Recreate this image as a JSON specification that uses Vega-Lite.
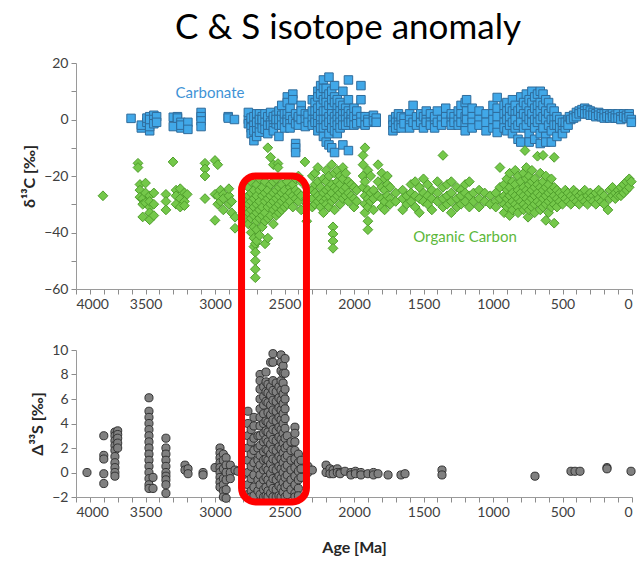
{
"$schema": "https://vega.github.io/schema/vega-lite/v6.json",
"title": {"text": "C & S isotope anomaly", "fontSize": 35, "font": "Lato", "fontWeight": "normal", "color": "#000000", "anchor": "middle", "frame": "group", "dx": -6, "offset": 10},
"padding": {"left": 21, "top": 11, "right": 0, "bottom": 2},
"bounds": "flush",
"spacing": 61,
"config": {
  "font": "Lato",
  "view": {"stroke": null},
  "axis": {"grid": false, "domainColor": "#9a9a9a", "tickColor": "#8c8c8c", "labelColor": "#404040", "labelFontSize": 14, "titleFontSize": 16, "titleFontWeight": "bold", "titleColor": "#262626", "tickSize": 5, "labelPadding": 3, "labelOverlap": false}
},
"datasets": {
  "carb": [
{"age":3604,"v":0.4},{"age":3530,"v":-3},{"age":3530,"v":-2},{"age":3490,"v":-1},{"age":3490,"v":0.5},{"age":3470,"v":-4},{"age":3470,"v":-2.5},{"age":3470,"v":1},{"age":3470,"v":0},{"age":3440,"v":1.5},{"age":3440,"v":0},{"age":3440,"v":-1.5},{"age":3420,"v":1},{"age":3420,"v":-1},
{"age":3300,"v":0.8},{"age":3300,"v":-2.5},{"age":3270,"v":1},{"age":3270,"v":0.5},{"age":3245,"v":-1},{"age":3245,"v":-3},{"age":3245,"v":-2},{"age":3195,"v":-1},{"age":3195,"v":-3.5},
{"age":3100,"v":2.5},{"age":3100,"v":1},{"age":3100,"v":-0.5},{"age":3100,"v":-2.5},{"age":2905,"v":1},{"age":2905,"v":0.5},{"age":2860,"v":0},
{"age":2760,"v":0},{"age":2760,"v":-1.5},{"age":2760,"v":2.5},{"age":2740,"v":-1},{"age":2740,"v":-3},{"age":2740,"v":-5},{"age":2740,"v":0.5},{"age":2720,"v":-2},{"age":2720,"v":-4},{"age":2720,"v":-7.5},{"age":2720,"v":1},
{"age":2700,"v":-6},{"age":2700,"v":-3},{"age":2700,"v":0},{"age":2700,"v":2},{"age":2700,"v":-1},{"age":2680,"v":2},{"age":2680,"v":-2},{"age":2680,"v":-4.5},{"age":2680,"v":0},
{"age":2660,"v":1},{"age":2660,"v":-1},{"age":2660,"v":-3},{"age":2660,"v":0},{"age":2640,"v":-1},{"age":2640,"v":2},{"age":2640,"v":-3.5},{"age":2620,"v":0},{"age":2620,"v":-2},{"age":2620,"v":-5},{"age":2620,"v":1},
{"age":2600,"v":2.5},{"age":2600,"v":-1},{"age":2600,"v":-2},{"age":2580,"v":0},{"age":2580,"v":-3},{"age":2580,"v":-4},{"age":2580,"v":1},{"age":2560,"v":1.5},{"age":2560,"v":-1.5},{"age":2560,"v":0},
{"age":2540,"v":3},{"age":2540,"v":-2},{"age":2540,"v":-6},{"age":2540,"v":0},{"age":2520,"v":5},{"age":2520,"v":1.5},{"age":2520,"v":0},{"age":2520,"v":-2},{"age":2500,"v":0},{"age":2500,"v":2},{"age":2500,"v":-3},
{"age":2480,"v":8},{"age":2480,"v":6},{"age":2480,"v":2},{"age":2480,"v":0},{"age":2480,"v":-1},{"age":2460,"v":4},{"age":2460,"v":1},{"age":2460,"v":-1.5},{"age":2460,"v":-3},
{"age":2440,"v":9},{"age":2440,"v":7},{"age":2440,"v":0},{"age":2420,"v":2},{"age":2420,"v":-1.5},{"age":2420,"v":-8.5},{"age":2420,"v":-10},{"age":2420,"v":-11.7},
{"age":2400,"v":0.5},{"age":2400,"v":-2},{"age":2400,"v":1},{"age":2380,"v":5},{"age":2380,"v":3},{"age":2380,"v":0},{"age":2350,"v":2},{"age":2350,"v":0},{"age":2350,"v":-2.5},{"age":2330,"v":1.5},{"age":2330,"v":-1},
{"age":2300,"v":7},{"age":2300,"v":3},{"age":2300,"v":0},{"age":2300,"v":-2},{"age":2280,"v":6},{"age":2280,"v":3},{"age":2280,"v":0},{"age":2280,"v":-1},
{"age":2260,"v":10},{"age":2260,"v":8},{"age":2260,"v":4},{"age":2260,"v":1},{"age":2260,"v":-1.5},{"age":2260,"v":-4},
{"age":2240,"v":12},{"age":2240,"v":9},{"age":2240,"v":5},{"age":2240,"v":2},{"age":2240,"v":0},{"age":2240,"v":-2},{"age":2240,"v":-3},
{"age":2220,"v":14},{"age":2220,"v":11},{"age":2220,"v":7},{"age":2220,"v":3},{"age":2220,"v":0},{"age":2220,"v":-3},{"age":2220,"v":-6},
{"age":2200,"v":11},{"age":2200,"v":8},{"age":2200,"v":6},{"age":2200,"v":3},{"age":2200,"v":0},{"age":2200,"v":-2},{"age":2200,"v":-8},
{"age":2180,"v":15},{"age":2180,"v":9},{"age":2180,"v":5},{"age":2180,"v":1},{"age":2180,"v":-1},{"age":2180,"v":-5},{"age":2180,"v":-9},
{"age":2160,"v":10},{"age":2160,"v":7},{"age":2160,"v":4},{"age":2160,"v":2},{"age":2160,"v":0},{"age":2160,"v":-3},{"age":2160,"v":-10},
{"age":2140,"v":12},{"age":2140,"v":8},{"age":2140,"v":6},{"age":2140,"v":1},{"age":2140,"v":-1},{"age":2140,"v":-4},{"age":2140,"v":-11.7},
{"age":2120,"v":7},{"age":2120,"v":4},{"age":2120,"v":2},{"age":2120,"v":0},{"age":2120,"v":-2},{"age":2120,"v":-5},
{"age":2100,"v":6},{"age":2100,"v":3},{"age":2100,"v":1},{"age":2100,"v":-1},{"age":2100,"v":-3},
{"age":2080,"v":10},{"age":2080,"v":5},{"age":2080,"v":2},{"age":2080,"v":0},{"age":2080,"v":-2},{"age":2080,"v":-9},
{"age":2060,"v":4},{"age":2060,"v":2},{"age":2060,"v":0},{"age":2060,"v":-2},{"age":2040,"v":14},{"age":2040,"v":7},{"age":2040,"v":3},{"age":2040,"v":1},{"age":2040,"v":-1},{"age":2040,"v":-11},
{"age":2020,"v":2},{"age":2020,"v":0},{"age":2020,"v":-1},{"age":2000,"v":4},{"age":2000,"v":1},{"age":2000,"v":-2},{"age":1980,"v":3},{"age":1980,"v":0},{"age":1980,"v":-1.5},
{"age":1950,"v":12},{"age":1950,"v":7},{"age":1950,"v":1},{"age":1950,"v":-1},{"age":1920,"v":1},{"age":1920,"v":-2},{"age":1900,"v":0},{"age":1900,"v":-1},{"age":1860,"v":1.5},{"age":1860,"v":-0.5},{"age":1840,"v":0.5},{"age":1840,"v":-1},
{"age":1720,"v":0},{"age":1720,"v":-2},{"age":1720,"v":-4},{"age":1700,"v":1},{"age":1700,"v":-1},{"age":1700,"v":-3},{"age":1680,"v":0},{"age":1680,"v":-2},{"age":1680,"v":2},{"age":1660,"v":-1},{"age":1660,"v":-3},{"age":1660,"v":1},{"age":1640,"v":0.5},{"age":1640,"v":-1.5},
{"age":1600,"v":2},{"age":1600,"v":0},{"age":1600,"v":-2},{"age":1600,"v":-3},{"age":1575,"v":5},{"age":1575,"v":-1},{"age":1550,"v":1},{"age":1550,"v":-2},{"age":1520,"v":0},{"age":1520,"v":-1},{"age":1520,"v":2},{"age":1500,"v":1},{"age":1500,"v":-3},
{"age":1480,"v":0},{"age":1480,"v":-1},{"age":1480,"v":3},{"age":1450,"v":2},{"age":1450,"v":-1},{"age":1450,"v":-2},{"age":1420,"v":0},{"age":1420,"v":1},{"age":1420,"v":-3},{"age":1400,"v":3},{"age":1400,"v":-1},{"age":1370,"v":0},{"age":1370,"v":-2},
{"age":1340,"v":4},{"age":1340,"v":1},{"age":1340,"v":-1},{"age":1300,"v":0},{"age":1300,"v":2},{"age":1300,"v":-2},{"age":1280,"v":1},{"age":1280,"v":-1},{"age":1250,"v":3},{"age":1250,"v":0},{"age":1250,"v":-2},
{"age":1230,"v":5},{"age":1230,"v":2},{"age":1230,"v":-1},{"age":1200,"v":6},{"age":1200,"v":1},{"age":1200,"v":-2},{"age":1200,"v":-4},{"age":1190,"v":7},{"age":1190,"v":3},{"age":1190,"v":0},
{"age":1150,"v":4},{"age":1150,"v":1},{"age":1150,"v":-1},{"age":1150,"v":-3},{"age":1100,"v":3},{"age":1100,"v":0},{"age":1100,"v":-2},{"age":1050,"v":2},{"age":1050,"v":-1},{"age":1050,"v":-4},
{"age":1000,"v":5},{"age":1000,"v":2},{"age":1000,"v":0},{"age":1000,"v":-3},{"age":970,"v":7.8},{"age":970,"v":4},{"age":970,"v":1},{"age":970,"v":-2},{"age":970,"v":-4.6},
{"age":920,"v":5},{"age":920,"v":2},{"age":920,"v":-1},{"age":920,"v":-3},{"age":900,"v":6},{"age":900,"v":3},{"age":900,"v":0},{"age":900,"v":-4},{"age":880,"v":4},{"age":880,"v":1},{"age":880,"v":-2},
{"age":860,"v":7},{"age":860,"v":3},{"age":860,"v":-1},{"age":860,"v":-5},{"age":840,"v":5},{"age":840,"v":2},{"age":840,"v":0},{"age":840,"v":-3},{"age":820,"v":3},{"age":820,"v":-2},{"age":820,"v":-7},
{"age":800,"v":8},{"age":800,"v":4},{"age":800,"v":1},{"age":800,"v":-1},{"age":800,"v":-8},{"age":780,"v":6},{"age":780,"v":2},{"age":780,"v":-3},{"age":760,"v":9},{"age":760,"v":5},{"age":760,"v":1},{"age":760,"v":-2},
{"age":740,"v":7},{"age":740,"v":3},{"age":740,"v":0},{"age":740,"v":-5},{"age":740,"v":-8},{"age":720,"v":10},{"age":720,"v":6},{"age":720,"v":2},{"age":720,"v":-1},
{"age":700,"v":8},{"age":700,"v":4},{"age":700,"v":0},{"age":700,"v":-3},{"age":700,"v":-7},{"age":680,"v":9},{"age":680,"v":5},{"age":680,"v":2},{"age":680,"v":-1},
{"age":660,"v":10},{"age":660,"v":6},{"age":660,"v":3},{"age":660,"v":0},{"age":660,"v":-5},{"age":660,"v":-8.5},{"age":640,"v":9},{"age":640,"v":5},{"age":640,"v":1},{"age":640,"v":-3},
{"age":620,"v":7},{"age":620,"v":3},{"age":620,"v":0},{"age":620,"v":-6},{"age":620,"v":-8},{"age":600,"v":6},{"age":600,"v":2},{"age":600,"v":-2},{"age":580,"v":4},{"age":580,"v":0},{"age":580,"v":-4},{"age":580,"v":-8},
{"age":560,"v":3},{"age":560,"v":0},{"age":560,"v":-2},{"age":540,"v":1},{"age":540,"v":-2},{"age":540,"v":-6},{"age":520,"v":0},{"age":520,"v":-3},
{"age":500,"v":-3},{"age":500,"v":-5},{"age":500,"v":-1},{"age":480,"v":-3},{"age":480,"v":-1},{"age":460,"v":0},{"age":460,"v":-2},{"age":450,"v":1},{"age":440,"v":0},{"age":420,"v":1.5},{"age":420,"v":0.5},{"age":400,"v":2.5},{"age":400,"v":1},
{"age":380,"v":3},{"age":380,"v":2},{"age":360,"v":3.5},{"age":360,"v":2.5},{"age":340,"v":4},{"age":340,"v":3},{"age":340,"v":2},{"age":320,"v":3.5},{"age":320,"v":2},{"age":300,"v":3},{"age":300,"v":1.5},
{"age":280,"v":2.5},{"age":280,"v":1.5},{"age":260,"v":2},{"age":260,"v":1},{"age":240,"v":2.5},{"age":240,"v":1.5},{"age":220,"v":2},{"age":220,"v":1},{"age":200,"v":2},{"age":200,"v":0.5},
{"age":180,"v":2},{"age":180,"v":1},{"age":160,"v":1.5},{"age":160,"v":0.5},{"age":140,"v":2},{"age":140,"v":1},{"age":120,"v":1.5},{"age":120,"v":0.5},{"age":100,"v":2},{"age":100,"v":0.5},
{"age":80,"v":1},{"age":80,"v":0},{"age":60,"v":2},{"age":60,"v":1},{"age":40,"v":1.5},{"age":40,"v":0.5},{"age":20,"v":2},{"age":20,"v":1},{"age":5,"v":0},{"age":5,"v":-1}
  ],
  "org": [
{"age":3806,"v":-27},{"age":3554,"v":-15.5},{"age":3554,"v":-17},{"age":3540,"v":-23},{"age":3540,"v":-25},{"age":3540,"v":-27.5},{"age":3520,"v":-28},{"age":3520,"v":-30},{"age":3520,"v":-34.5},
{"age":3500,"v":-22.5},{"age":3500,"v":-26},{"age":3500,"v":-29.5},{"age":3470,"v":-27},{"age":3470,"v":-31},{"age":3470,"v":-33},{"age":3470,"v":-35.5},{"age":3470,"v":-29},{"age":3440,"v":-30},{"age":3440,"v":-34},{"age":3440,"v":-26},
{"age":3353,"v":-26.5},{"age":3353,"v":-29},{"age":3353,"v":-32},{"age":3302,"v":-15},{"age":3280,"v":-25},{"age":3280,"v":-27},{"age":3280,"v":-30},{"age":3250,"v":-24.5},{"age":3250,"v":-28},{"age":3250,"v":-31},
{"age":3220,"v":-26},{"age":3220,"v":-29},{"age":3220,"v":-30.5},{"age":3200,"v":-26.5},{"age":3072,"v":-15.5},{"age":3072,"v":-17.5},{"age":3072,"v":-20},{"age":3072,"v":-28},
{"age":3000,"v":-14.5},{"age":3000,"v":-26.5},{"age":3000,"v":-35.7},{"age":2980,"v":-16},{"age":2980,"v":-27},{"age":2980,"v":-30},{"age":2960,"v":-25},{"age":2960,"v":-29},
{"age":2940,"v":-26.5},{"age":2940,"v":-28},{"age":2940,"v":-32},{"age":2900,"v":-27},{"age":2900,"v":-30},{"age":2900,"v":-24.5},{"age":2880,"v":-29},{"age":2880,"v":-33},{"age":2856,"v":-34.6},{"age":2856,"v":-38.5},
{"age":2780,"v":-23},{"age":2780,"v":-28},{"age":2780,"v":-31},{"age":2780,"v":-35},{"age":2760,"v":-24},{"age":2760,"v":-27},{"age":2760,"v":-30},{"age":2760,"v":-33},{"age":2760,"v":-37},
{"age":2740,"v":-22},{"age":2740,"v":-26},{"age":2740,"v":-29},{"age":2740,"v":-32},{"age":2740,"v":-35},{"age":2740,"v":-40},
{"age":2720,"v":-25},{"age":2720,"v":-28},{"age":2720,"v":-31},{"age":2720,"v":-34},{"age":2720,"v":-38},{"age":2720,"v":-42},{"age":2720,"v":-45},
{"age":2710,"v":-44},{"age":2710,"v":-47},{"age":2710,"v":-50},{"age":2710,"v":-53},{"age":2710,"v":-56},
{"age":2700,"v":-23},{"age":2700,"v":-27},{"age":2700,"v":-30},{"age":2700,"v":-33},{"age":2700,"v":-36},{"age":2700,"v":-39},{"age":2700,"v":-43},
{"age":2680,"v":-21},{"age":2680,"v":-25},{"age":2680,"v":-29},{"age":2680,"v":-32},{"age":2680,"v":-35},{"age":2680,"v":-41},
{"age":2660,"v":-24},{"age":2660,"v":-27},{"age":2660,"v":-31},{"age":2660,"v":-34},{"age":2660,"v":-38},
{"age":2640,"v":-22},{"age":2640,"v":-26},{"age":2640,"v":-29},{"age":2640,"v":-33},{"age":2640,"v":-36},{"age":2640,"v":-44},
{"age":2620,"v":-10},{"age":2620,"v":-25},{"age":2620,"v":-28},{"age":2620,"v":-31},{"age":2620,"v":-35},{"age":2620,"v":-42},
{"age":2600,"v":-13.4},{"age":2600,"v":-23},{"age":2600,"v":-27},{"age":2600,"v":-30},{"age":2600,"v":-34},
{"age":2580,"v":-16},{"age":2580,"v":-22},{"age":2580,"v":-26},{"age":2580,"v":-29},{"age":2580,"v":-32},{"age":2580,"v":-37},
{"age":2560,"v":-21},{"age":2560,"v":-25},{"age":2560,"v":-28},{"age":2560,"v":-31},{"age":2560,"v":-34},{"age":2547,"v":-15.6},{"age":2547,"v":-17},
{"age":2540,"v":-24},{"age":2540,"v":-27},{"age":2540,"v":-30},{"age":2540,"v":-33},{"age":2520,"v":-23},{"age":2520,"v":-26},{"age":2520,"v":-29},{"age":2520,"v":-32},
{"age":2500,"v":-25},{"age":2500,"v":-28},{"age":2500,"v":-31},{"age":2480,"v":-22},{"age":2480,"v":-27},{"age":2480,"v":-30},{"age":2460,"v":-24},{"age":2460,"v":-26},{"age":2460,"v":-29},
{"age":2440,"v":-23},{"age":2440,"v":-27},{"age":2440,"v":-31},{"age":2420,"v":-21},{"age":2420,"v":-25},{"age":2420,"v":-28},{"age":2400,"v":-20},{"age":2400,"v":-26},{"age":2400,"v":-29},
{"age":2380,"v":-22},{"age":2380,"v":-27},{"age":2380,"v":-32},{"age":2353,"v":-15},{"age":2340,"v":-24},{"age":2340,"v":-28},{"age":2340,"v":-30},{"age":2340,"v":-36},
{"age":2300,"v":-20},{"age":2300,"v":-25},{"age":2300,"v":-28},{"age":2300,"v":-31},{"age":2280,"v":-19},{"age":2280,"v":-23},{"age":2280,"v":-26},{"age":2280,"v":-30},
{"age":2260,"v":-17},{"age":2260,"v":-22},{"age":2260,"v":-27},{"age":2260,"v":-29},{"age":2240,"v":-24},{"age":2240,"v":-28},{"age":2240,"v":-31},
{"age":2220,"v":-21},{"age":2220,"v":-26},{"age":2220,"v":-29},{"age":2220,"v":-33},{"age":2200,"v":-18},{"age":2200,"v":-22},{"age":2200,"v":-25},{"age":2200,"v":-28},{"age":2200,"v":-30},
{"age":2180,"v":-20},{"age":2180,"v":-24},{"age":2180,"v":-27},{"age":2180,"v":-31},{"age":2160,"v":-16},{"age":2160,"v":-23},{"age":2160,"v":-26},{"age":2160,"v":-29},
{"age":2151,"v":-38},{"age":2151,"v":-40.5},{"age":2151,"v":-43},{"age":2151,"v":-45.6},
{"age":2140,"v":-19},{"age":2140,"v":-24},{"age":2140,"v":-28},{"age":2140,"v":-32},{"age":2120,"v":-18},{"age":2120,"v":-22},{"age":2120,"v":-25},{"age":2120,"v":-27},
{"age":2100,"v":-20},{"age":2100,"v":-23},{"age":2100,"v":-26},{"age":2100,"v":-30},{"age":2080,"v":-17},{"age":2080,"v":-21},{"age":2080,"v":-25},{"age":2080,"v":-28},
{"age":2060,"v":-19},{"age":2060,"v":-24},{"age":2060,"v":-27},{"age":2040,"v":-22},{"age":2040,"v":-26},{"age":2040,"v":-29},{"age":2020,"v":-23},{"age":2020,"v":-27},
{"age":2000,"v":-24},{"age":2000,"v":-28},{"age":2000,"v":-31},{"age":1980,"v":-25},{"age":1980,"v":-29},
{"age":1935,"v":-12.7},{"age":1935,"v":-16},{"age":1935,"v":-20},{"age":1935,"v":-24},{"age":1921,"v":-10},{"age":1921,"v":-22},{"age":1921,"v":-27},{"age":1921,"v":-30},{"age":1921,"v":-33},
{"age":1900,"v":-18},{"age":1900,"v":-25},{"age":1900,"v":-28},{"age":1900,"v":-31},{"age":1900,"v":-36},{"age":1900,"v":-39},{"age":1880,"v":-20},{"age":1880,"v":-26},{"age":1880,"v":-29},
{"age":1860,"v":-25},{"age":1860,"v":-28},{"age":1860,"v":-32},{"age":1827,"v":-16},{"age":1827,"v":-22},{"age":1827,"v":-27},
{"age":1800,"v":-19},{"age":1800,"v":-24},{"age":1800,"v":-28},{"age":1800,"v":-31},{"age":1780,"v":-21},{"age":1780,"v":-25},{"age":1780,"v":-29},{"age":1780,"v":-32},
{"age":1760,"v":-20},{"age":1760,"v":-23},{"age":1760,"v":-27},{"age":1740,"v":-24},{"age":1740,"v":-28},{"age":1740,"v":-30},{"age":1700,"v":-26},{"age":1700,"v":-29},
{"age":1650,"v":-25},{"age":1650,"v":-28},{"age":1650,"v":-32},{"age":1620,"v":-27},{"age":1620,"v":-30},{"age":1590,"v":-23},{"age":1590,"v":-26},{"age":1590,"v":-29},
{"age":1560,"v":-22},{"age":1560,"v":-27},{"age":1560,"v":-31},{"age":1530,"v":-24},{"age":1530,"v":-28},{"age":1530,"v":-33},{"age":1500,"v":-21},{"age":1500,"v":-26},{"age":1500,"v":-29},
{"age":1470,"v":-23},{"age":1470,"v":-27},{"age":1470,"v":-30},{"age":1440,"v":-25},{"age":1440,"v":-28},{"age":1440,"v":-32},{"age":1400,"v":-22},{"age":1400,"v":-26},{"age":1400,"v":-29},
{"age":1360,"v":-12.7},{"age":1360,"v":-24},{"age":1360,"v":-28},{"age":1360,"v":-31},{"age":1330,"v":-23},{"age":1330,"v":-27},{"age":1330,"v":-30},
{"age":1300,"v":-22},{"age":1300,"v":-26},{"age":1300,"v":-29},{"age":1300,"v":-33},{"age":1260,"v":-24},{"age":1260,"v":-28},{"age":1260,"v":-31},
{"age":1230,"v":-25},{"age":1230,"v":-27},{"age":1230,"v":-30},{"age":1200,"v":-23},{"age":1200,"v":-26},{"age":1200,"v":-29},{"age":1170,"v":-22},{"age":1170,"v":-27},{"age":1170,"v":-31},
{"age":1140,"v":-26},{"age":1140,"v":-29},{"age":1100,"v":-25},{"age":1100,"v":-28},{"age":1100,"v":-31},{"age":1060,"v":-26},{"age":1060,"v":-29},{"age":1020,"v":-27},{"age":1020,"v":-30},
{"age":980,"v":-26},{"age":980,"v":-29},{"age":980,"v":-31},{"age":950,"v":-17},{"age":950,"v":-24},{"age":950,"v":-28},
{"age":920,"v":-23},{"age":920,"v":-27},{"age":920,"v":-30},{"age":920,"v":-33},{"age":900,"v":-21},{"age":900,"v":-25},{"age":900,"v":-28},{"age":900,"v":-31},
{"age":880,"v":-19},{"age":880,"v":-24},{"age":880,"v":-27},{"age":880,"v":-30},{"age":880,"v":-34},{"age":860,"v":-22},{"age":860,"v":-26},{"age":860,"v":-29},{"age":860,"v":-32},
{"age":840,"v":-18},{"age":840,"v":-23},{"age":840,"v":-27},{"age":840,"v":-30},{"age":820,"v":-20},{"age":820,"v":-25},{"age":820,"v":-28},{"age":820,"v":-31},{"age":820,"v":-33},
{"age":800,"v":-22},{"age":800,"v":-26},{"age":800,"v":-29},{"age":780,"v":-19},{"age":780,"v":-24},{"age":780,"v":-27},{"age":780,"v":-30},{"age":780,"v":-32},{"age":770,"v":-11},
{"age":760,"v":-17},{"age":760,"v":-21},{"age":760,"v":-25},{"age":760,"v":-28},{"age":760,"v":-31},{"age":748,"v":-34.6},
{"age":740,"v":-20},{"age":740,"v":-23},{"age":740,"v":-26},{"age":740,"v":-29},{"age":740,"v":-32},{"age":720,"v":-18},{"age":720,"v":-22},{"age":720,"v":-25},{"age":720,"v":-28},{"age":720,"v":-31},
{"age":700,"v":-21},{"age":700,"v":-24},{"age":700,"v":-27},{"age":700,"v":-30},{"age":700,"v":-33},{"age":680,"v":-13},{"age":680,"v":-23},{"age":680,"v":-26},{"age":680,"v":-29},
{"age":660,"v":-19},{"age":660,"v":-24},{"age":660,"v":-27},{"age":660,"v":-30},{"age":660,"v":-32},{"age":640,"v":-12.7},{"age":640,"v":-22},{"age":640,"v":-25},{"age":640,"v":-28},{"age":640,"v":-31},
{"age":620,"v":-20},{"age":620,"v":-24},{"age":620,"v":-27},{"age":620,"v":-30},{"age":620,"v":-35.7},{"age":600,"v":-23},{"age":600,"v":-26},{"age":600,"v":-29},{"age":600,"v":-33},
{"age":580,"v":-21},{"age":580,"v":-25},{"age":580,"v":-28},{"age":580,"v":-31},{"age":560,"v":-13.4},{"age":560,"v":-24},{"age":560,"v":-27},{"age":560,"v":-30},{"age":560,"v":-36.7},
{"age":540,"v":-25},{"age":540,"v":-28},{"age":540,"v":-31},{"age":520,"v":-26},{"age":520,"v":-29},{"age":500,"v":-27},{"age":500,"v":-30},{"age":480,"v":-25},{"age":480,"v":-28},
{"age":460,"v":-26},{"age":460,"v":-29},{"age":440,"v":-27},{"age":440,"v":-30},{"age":420,"v":-25},{"age":420,"v":-28},{"age":400,"v":-26},{"age":400,"v":-29},{"age":380,"v":-27},{"age":380,"v":-30},
{"age":360,"v":-26},{"age":360,"v":-28},{"age":340,"v":-25},{"age":340,"v":-29},{"age":320,"v":-27},{"age":320,"v":-30},{"age":300,"v":-26},{"age":300,"v":-28},{"age":280,"v":-27},{"age":280,"v":-29},
{"age":260,"v":-26},{"age":260,"v":-30},{"age":240,"v":-25},{"age":240,"v":-28},{"age":220,"v":-26},{"age":220,"v":-29},{"age":200,"v":-27},{"age":200,"v":-30},{"age":173,"v":-32},
{"age":160,"v":-25},{"age":160,"v":-28},{"age":140,"v":-24},{"age":140,"v":-27},{"age":120,"v":-26},{"age":120,"v":-28},{"age":100,"v":-25},{"age":100,"v":-27},
{"age":80,"v":-24},{"age":80,"v":-27},{"age":60,"v":-23},{"age":60,"v":-26},{"age":40,"v":-22},{"age":40,"v":-25},{"age":20,"v":-21},{"age":20,"v":-24},{"age":5,"v":-22}
  ],
  "sulf": [
{"age":3921,"v":0},{"age":3800,"v":3.0},{"age":3800,"v":1.4},{"age":3800,"v":1.1},{"age":3800,"v":-0.1},{"age":3800,"v":-0.9},
{"age":3720,"v":3.3},{"age":3720,"v":3.0},{"age":3720,"v":2.6},{"age":3720,"v":2.2},{"age":3720,"v":1.8},{"age":3720,"v":1.3},{"age":3720,"v":0.8},{"age":3720,"v":0.4},{"age":3720,"v":0},{"age":3720,"v":-0.3},
{"age":3700,"v":3.4},{"age":3700,"v":3.1},{"age":3700,"v":2.8},{"age":3700,"v":2.4},{"age":3700,"v":2.0},
{"age":3475,"v":6.1},{"age":3475,"v":5.0},{"age":3475,"v":4.5},{"age":3475,"v":4.0},{"age":3475,"v":3.5},{"age":3475,"v":3.0},{"age":3475,"v":2.5},{"age":3475,"v":2.0},{"age":3475,"v":1.5},{"age":3475,"v":1.0},{"age":3475,"v":0.5},{"age":3475,"v":0},{"age":3475,"v":-0.5},{"age":3475,"v":-1.0},{"age":3475,"v":-1.3},
{"age":3446,"v":-0.4},{"age":3446,"v":-1.3},
{"age":3353,"v":2.8},{"age":3353,"v":2.0},{"age":3353,"v":1.5},{"age":3353,"v":1.0},{"age":3353,"v":0.5},{"age":3353,"v":0},{"age":3353,"v":-0.3},{"age":3353,"v":-0.6},{"age":3353,"v":-1.0},{"age":3353,"v":-1.7},
{"age":3216,"v":0.6},{"age":3216,"v":0.2},{"age":3194,"v":0.3},{"age":3194,"v":-0.1},{"age":3086,"v":0},{"age":3086,"v":-0.2},{"age":3000,"v":0.4},
{"age":2964,"v":2.0},{"age":2964,"v":1.6},{"age":2964,"v":1.2},{"age":2964,"v":0.8},{"age":2964,"v":0.4},{"age":2964,"v":0},{"age":2964,"v":-0.4},{"age":2964,"v":-0.8},{"age":2964,"v":-1.2},
{"age":2940,"v":1.5},{"age":2940,"v":1.0},{"age":2940,"v":0.3},{"age":2940,"v":-0.5},{"age":2940,"v":-1.0},{"age":2940,"v":-1.5},{"age":2940,"v":-2.0},
{"age":2920,"v":1.2},{"age":2920,"v":0.6},{"age":2920,"v":0},{"age":2920,"v":-0.6},{"age":2920,"v":-1.4},{"age":2920,"v":-2.1},{"age":2890,"v":0.6},{"age":2890,"v":0},{"age":2890,"v":-0.5},
{"age":2856,"v":0.2},{"age":2835,"v":0.1},{"age":2800,"v":0},{"age":2800,"v":-0.2},
{"age":2763,"v":5.0},{"age":2763,"v":4.0},{"age":2763,"v":3.0},{"age":2763,"v":2.0},{"age":2763,"v":1.0},{"age":2763,"v":0},{"age":2763,"v":-1.0},{"age":2763,"v":-1.8},
{"age":2740,"v":3.5},{"age":2740,"v":2.5},{"age":2740,"v":1.5},{"age":2740,"v":0.5},{"age":2740,"v":-0.5},{"age":2740,"v":-1.5},{"age":2740,"v":-2.0},
{"age":2720,"v":4.5},{"age":2720,"v":3.8},{"age":2720,"v":2.8},{"age":2720,"v":1.8},{"age":2720,"v":0.8},{"age":2720,"v":-0.2},{"age":2720,"v":-1.2},{"age":2720,"v":-1.9},
{"age":2691,"v":3.0},{"age":2691,"v":2.0},{"age":2691,"v":1.0},{"age":2691,"v":0.3},{"age":2691,"v":-0.6},{"age":2691,"v":-1.5},
{"age":2676,"v":8.0},{"age":2676,"v":7.5},{"age":2676,"v":6.8},{"age":2676,"v":6.0},{"age":2676,"v":5.2},{"age":2676,"v":4.5},{"age":2676,"v":3.8},{"age":2676,"v":3.0},{"age":2676,"v":2.2},{"age":2676,"v":1.4},{"age":2676,"v":0.6},{"age":2676,"v":-0.2},{"age":2676,"v":-1.0},{"age":2676,"v":-1.8},
{"age":2650,"v":7.0},{"age":2650,"v":6.2},{"age":2650,"v":5.5},{"age":2650,"v":4.8},{"age":2650,"v":4.0},{"age":2650,"v":3.2},{"age":2650,"v":2.5},{"age":2650,"v":1.7},{"age":2650,"v":1.0},{"age":2650,"v":0.2},{"age":2650,"v":-0.6},{"age":2650,"v":-1.4},{"age":2650,"v":-2.0},
{"age":2633,"v":8.2},{"age":2633,"v":7.4},{"age":2633,"v":6.6},{"age":2633,"v":5.8},{"age":2633,"v":4.2},{"age":2633,"v":3.4},{"age":2633,"v":2.7},{"age":2633,"v":1.9},{"age":2633,"v":1.1},{"age":2633,"v":0.4},{"age":2633,"v":-0.4},{"age":2633,"v":-1.2},{"age":2633,"v":-1.9},
{"age":2619,"v":7.2},{"age":2619,"v":6.5},{"age":2619,"v":5.7},{"age":2619,"v":4.9},{"age":2619,"v":4.1},{"age":2619,"v":3.3},{"age":2619,"v":2.5},{"age":2619,"v":1.8},{"age":2619,"v":1.0},{"age":2619,"v":0.2},{"age":2619,"v":-0.6},{"age":2619,"v":-1.5},{"age":2619,"v":-2.0},
{"age":2600,"v":9.0},{"age":2600,"v":7.0},{"age":2600,"v":6.3},{"age":2600,"v":5.5},{"age":2600,"v":4.7},{"age":2600,"v":3.9},{"age":2600,"v":3.1},{"age":2600,"v":2.3},{"age":2600,"v":1.5},{"age":2600,"v":0.7},{"age":2600,"v":-0.1},{"age":2600,"v":-0.9},{"age":2600,"v":-1.7},
{"age":2583,"v":9.7},{"age":2583,"v":9.0},{"age":2583,"v":7.5},{"age":2583,"v":6.7},{"age":2583,"v":5.9},{"age":2583,"v":5.1},{"age":2583,"v":4.3},{"age":2583,"v":3.5},{"age":2583,"v":2.7},{"age":2583,"v":1.9},{"age":2583,"v":1.1},{"age":2583,"v":0.3},{"age":2583,"v":-0.5},{"age":2583,"v":-1.3},{"age":2583,"v":-2.0},
{"age":2560,"v":7.3},{"age":2560,"v":6.6},{"age":2560,"v":5.8},{"age":2560,"v":5.0},{"age":2560,"v":4.2},{"age":2560,"v":3.4},{"age":2560,"v":2.6},{"age":2560,"v":1.8},{"age":2560,"v":1.0},{"age":2560,"v":0.2},{"age":2560,"v":-0.6},{"age":2560,"v":-1.4},{"age":2560,"v":-2.0},
{"age":2540,"v":7.0},{"age":2540,"v":6.1},{"age":2540,"v":5.3},{"age":2540,"v":4.5},{"age":2540,"v":3.7},{"age":2540,"v":2.9},{"age":2540,"v":2.1},{"age":2540,"v":1.3},{"age":2540,"v":0.5},{"age":2540,"v":-0.3},{"age":2540,"v":-1.1},{"age":2540,"v":-1.9},
{"age":2525,"v":9.6},{"age":2525,"v":9.0},{"age":2525,"v":8.3},{"age":2525,"v":7.5},{"age":2525,"v":6.7},{"age":2525,"v":5.9},{"age":2525,"v":5.1},{"age":2525,"v":4.3},{"age":2525,"v":3.5},{"age":2525,"v":2.7},{"age":2525,"v":1.9},{"age":2525,"v":1.1},{"age":2525,"v":0.3},{"age":2525,"v":-0.5},{"age":2525,"v":-1.3},{"age":2525,"v":-2.0},
{"age":2510,"v":8.7},{"age":2510,"v":8.1},{"age":2510,"v":7.3},{"age":2510,"v":6.4},{"age":2510,"v":5.6},{"age":2510,"v":4.8},{"age":2510,"v":4.0},{"age":2510,"v":3.2},{"age":2510,"v":2.4},{"age":2510,"v":1.6},{"age":2510,"v":0.8},{"age":2510,"v":0},{"age":2510,"v":-0.8},{"age":2510,"v":-1.6},
{"age":2496,"v":9.3},{"age":2496,"v":8.1},{"age":2496,"v":6.8},{"age":2496,"v":6.0},{"age":2496,"v":5.2},{"age":2496,"v":4.4},{"age":2496,"v":3.6},{"age":2496,"v":2.8},{"age":2496,"v":2.0},{"age":2496,"v":1.2},{"age":2496,"v":0.4},{"age":2496,"v":-0.4},{"age":2496,"v":-1.2},{"age":2496,"v":-2.0},
{"age":2480,"v":3.0},{"age":2480,"v":2.2},{"age":2480,"v":1.4},{"age":2480,"v":0.6},{"age":2480,"v":-0.2},{"age":2480,"v":-1.0},{"age":2480,"v":-1.8},
{"age":2453,"v":2.5},{"age":2453,"v":1.8},{"age":2453,"v":1.0},{"age":2453,"v":0.2},{"age":2453,"v":-0.6},{"age":2453,"v":-1.4},
{"age":2425,"v":3.7},{"age":2425,"v":3.2},{"age":2425,"v":2.5},{"age":2425,"v":1.8},{"age":2425,"v":1.1},{"age":2425,"v":0.4},{"age":2425,"v":-0.3},{"age":2425,"v":-1.0},{"age":2425,"v":-1.7},{"age":2425,"v":-2.0},
{"age":2400,"v":1.5},{"age":2400,"v":0.8},{"age":2400,"v":0.1},{"age":2400,"v":-0.6},{"age":2400,"v":-1.3},{"age":2400,"v":-1.9},{"age":2381,"v":1.0},{"age":2381,"v":0.3},{"age":2381,"v":-0.4},
{"age":2331,"v":0.5},{"age":2331,"v":0},{"age":2300,"v":0.2},{"age":2201,"v":0.6},{"age":2201,"v":0},{"age":2173,"v":0.3},{"age":2173,"v":-0.1},{"age":2150,"v":0.2},{"age":2150,"v":-0.1},
{"age":2120,"v":0.3},{"age":2120,"v":0},{"age":2100,"v":0},{"age":2100,"v":-0.1},{"age":2065,"v":0.1},{"age":2022,"v":0},{"age":2022,"v":-0.2},{"age":1990,"v":0.1},{"age":1990,"v":-0.1},
{"age":1950,"v":0},{"age":1950,"v":-0.2},{"age":1900,"v":-0.1},{"age":1860,"v":0},{"age":1860,"v":-0.2},{"age":1827,"v":-0.1},{"age":1755,"v":-0.2},{"age":1662,"v":-0.2},{"age":1633,"v":-0.1},
{"age":1367,"v":0.2},{"age":1367,"v":-0.2},{"age":698,"v":-0.3},{"age":439,"v":0.1},{"age":410,"v":0.1},{"age":374,"v":0.1},{"age":180,"v":0.4},{"age":180,"v":0.3},{"age":7,"v":0.1}
  ],
  "labels": [
{"age":3036,"v":9.4,"text":"Carbonate","series":"carb"},
{"age":1201,"v":-41.5,"text":"Organic Carbon","series":"org"}
  ],
  "box": [
{"ageFrom":2809,"ageTo":2342,"top":24.2,"bottom":-2.4}
  ]
},
"vconcat": [
  {
    "width": 556, "height": 226,
    "layer": [
      {"data": {"name": "carb"},
       "mark": {"type": "point", "shape": "square", "size": 72, "fill": "#41a8e8", "stroke": "#2f6c9c", "strokeWidth": 1, "opacity": 1},
       "encoding": {
         "x": {"field": "age", "type": "quantitative", "scale": {"domain": [0, 4000], "reverse": true, "nice": false},
               "axis": {"title": null, "tickCount": 100, "labelOverlap": false, "values": [0,100,200,300,400,500,600,700,800,900,1000,1100,1200,1300,1400,1500,1600,1700,1800,1900,2000,2100,2200,2300,2400,2500,2600,2700,2800,2900,3000,3100,3200,3300,3400,3500,3600,3700,3800,3900,4000], "format": "d", "labelExpr": "datum.value % 500 === 0 ? datum.label : ''"}},
         "y": {"field": "v", "type": "quantitative", "scale": {"domain": [-60, 20], "nice": false},
               "axis": {"title": "δ¹³C [‰]", "tickCount": 50, "labelOverlap": false, "format": "d", "values": [-60,-50,-40,-30,-20,-10,0,10,20], "labelExpr": "datum.value % 20 === 0 ? datum.label : ''", "titlePadding": 6}}
       }},
      {"data": {"name": "org"},
       "mark": {"type": "point", "shape": "diamond", "size": 95, "fill": "#74c84a", "stroke": "#4f9e2c", "strokeWidth": 1, "opacity": 1},
       "encoding": {
         "x": {"field": "age", "type": "quantitative"},
         "y": {"field": "v", "type": "quantitative"}
       }},
      {"data": {"name": "labels"},
       "mark": {"type": "text", "fontSize": 15, "font": "Lato", "align": "center", "baseline": "middle"},
       "encoding": {
         "x": {"field": "age", "type": "quantitative"},
         "y": {"field": "v", "type": "quantitative"},
         "text": {"field": "text"},
         "color": {"field": "series", "type": "nominal", "scale": {"domain": ["carb", "org"], "range": ["#3f93d6", "#5cb83a"]}, "legend": null}
       }}
    ]
  },
  {
    "width": 556, "height": 147,
    "layer": [
      {"data": {"name": "sulf"},
       "mark": {"type": "point", "shape": "circle", "size": 66, "fill": "#808080", "stroke": "#333333", "strokeWidth": 1, "opacity": 1},
       "encoding": {
         "x": {"field": "age", "type": "quantitative", "scale": {"domain": [0, 4000], "reverse": true, "nice": false},
               "axis": {"title": "Age [Ma]", "titlePadding": 20, "tickCount": 100, "labelOverlap": false, "values": [0,100,200,300,400,500,600,700,800,900,1000,1100,1200,1300,1400,1500,1600,1700,1800,1900,2000,2100,2200,2300,2400,2500,2600,2700,2800,2900,3000,3100,3200,3300,3400,3500,3600,3700,3800,3900,4000], "format": "d", "labelExpr": "datum.value % 500 === 0 ? datum.label : ''"}},
         "y": {"field": "v", "type": "quantitative", "scale": {"domain": [-2, 10], "nice": false},
               "axis": {"title": "Δ³³S [‰]", "tickCount": 50, "labelOverlap": false, "format": "d", "values": [-2,0,2,4,6,8,10], "titlePadding": 6}}
       }},
      {"data": {"name": "box"},
       "mark": {"type": "rect", "fill": null, "fillOpacity": 0, "stroke": "#ff0000", "strokeWidth": 7, "cornerRadius": 14, "clip": false},
       "encoding": {
         "x": {"field": "ageFrom", "type": "quantitative"},
         "x2": {"field": "ageTo"},
         "y": {"field": "top", "type": "quantitative"},
         "y2": {"field": "bottom"}
       }}
    ]
  }
]
}
